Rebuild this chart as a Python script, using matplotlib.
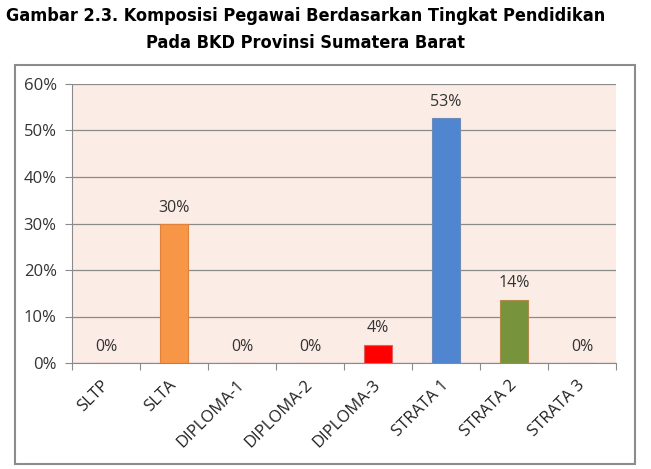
import matplotlib
matplotlib.use("Agg")
from matplotlib import pyplot as plt
from matplotlib.patches import Rectangle
from matplotlib.ticker import FuncFormatter, MultipleLocator
from matplotlib import font_manager

categories = ['SLTP', 'SLTA', 'DIPLOMA-1', 'DIPLOMA-2', 'DIPLOMA-3',
              'STRATA 1', 'STRATA 2', 'STRATA 3']
values = [0.0, 29.8, 0.0, 0.0, 3.9, 52.7, 13.6, 0.0]
bar_colors = ['#F79646', '#F79646', '#F79646', '#F79646', '#FF0000',
              '#4F86CF', '#77933C', '#77933C']
edge_colors = ['#E0823A', '#E0823A', '#E0823A', '#E0823A', '#E06060',
               '#6D8DB8', '#B08A4A', '#B08A4A']

title = 'Gambar 2.3. Komposisi Pegawai Berdasarkan Tingkat Pendidikan\nPada BKD Provinsi Sumatera Barat'

W, H = 651, 469
dpi = 100
fig = plt.figure(figsize=(W / dpi, H / dpi), dpi=dpi)
fig.patch.set_facecolor('white')

# outer chart frame
fig.patches.append(Rectangle((15 / W, 1 - 464 / H), (635 - 15) / W, (464 - 65) / H,
                             transform=fig.transFigure, fill=False,
                             edgecolor='#8C8C8C', linewidth=1.5))

names = {f.name for f in font_manager.fontManager.ttflist}
if 'DejaVu Sans Condensed' in names:
    title_font = dict(family='DejaVu Sans Condensed', fontsize=14.6)
else:
    title_font = dict(family='DejaVu Sans', stretch='condensed', fontsize=13)

fig.text(306 / W, 1 - 29.5 / H, title, ha='center', va='center',
         fontweight='bold', linespacing=1.7, **title_font)

left, right, top, bottom = 72, 616, 84, 363
ax = fig.add_axes([left / W, 1 - bottom / H, (right - left) / W, (bottom - top) / H])
ax.set_facecolor('#FCECE6')

x = list(range(len(categories)))
ax.bar(x, values, width=0.41, color=bar_colors, edgecolor=edge_colors,
       linewidth=0.8, zorder=3)

for xi, v in zip(x, values):
    ax.text(xi, v + 1.8, '{0:.0f}%'.format(v), ha='center', va='bottom',
            fontsize=11.5, color='#333333', family='Open Sans', zorder=4)

ax.set_xlim(-0.5, len(categories) - 0.5)
ax.set_ylim(0, 60)
ax.yaxis.set_major_locator(MultipleLocator(10))
ax.yaxis.set_major_formatter(FuncFormatter(lambda v, p: '{0:.0f}%'.format(v)))
ax.grid(axis='y', color='#8A8A8A', linewidth=0.9, zorder=1)
ax.set_axisbelow(True)

ax.set_xticks([i - 0.5 for i in range(len(categories) + 1)])
ax.set_xticklabels([])
ax.set_xticks([i - 0.08 for i in x], minor=True)
ax.set_xticklabels(categories, minor=True, rotation=45, ha='right',
                   rotation_mode='anchor', fontsize=12, family='Open Sans',
                   color='#222222')
ax.tick_params(axis='x', which='minor', length=0, pad=10)
ax.tick_params(axis='x', which='major', length=5, color='#8A8A8A', direction='out')
ax.tick_params(axis='y', length=5, color='#8A8A8A', pad=6, labelsize=12,
               labelcolor='#333333')
for lbl in ax.get_yticklabels():
    lbl.set_family('Open Sans')

for side in ['top', 'right']:
    ax.spines[side].set_visible(False)
ax.spines['left'].set_color('#8A8A8A')
ax.spines['bottom'].set_color('#8A8A8A')

plt.savefig('out.png', dpi=dpi)
